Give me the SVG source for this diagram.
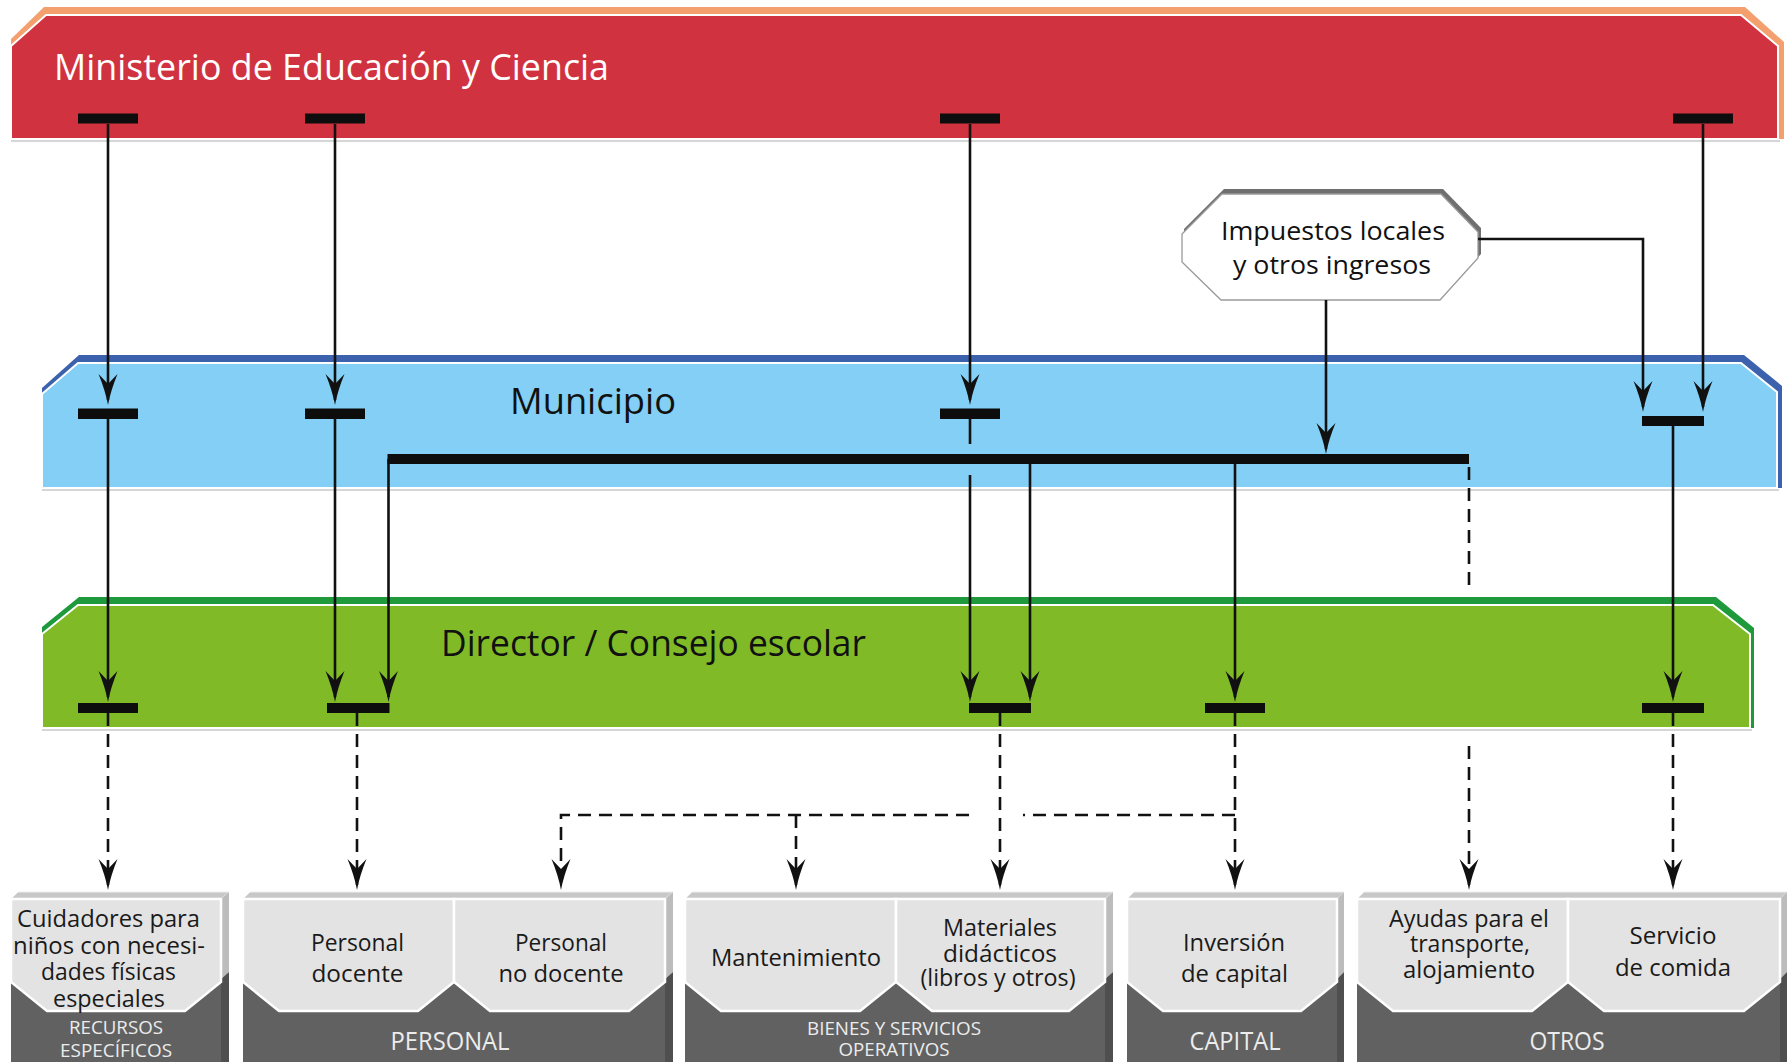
<svg xmlns="http://www.w3.org/2000/svg" width="1787" height="1062" viewBox="0 0 1787 1062">
<defs>
<style>
.t{font-family:"Open Sans","Noto Sans","DejaVu Sans",sans-serif}
.ln{stroke:#111;stroke-width:2.6;fill:none}
.dl{stroke:#111;stroke-width:2.6;fill:none;stroke-dasharray:13 8}
.ar{marker-end:url(#ah)}
.bar{fill:#0d0d0d}
.sep{stroke:#d6d6d6;stroke-width:2}
.cell{fill:#e3e3e3;stroke:#fff;stroke-width:2.5}
.dark{fill:#616161}
.bevel{fill:#c8c8c8;stroke:#eee;stroke-width:1}
.sideL{fill:#bcbcbc}
.sideD{fill:#4f4f4f}
.ct{font-size:24.5px;fill:#1a1a1a;text-anchor:middle}
.lb{fill:#ececec;text-anchor:middle}
</style>
<marker id="ah" viewBox="-34 -11 36 22" refX="-5" refY="0" markerWidth="36" markerHeight="22" markerUnits="userSpaceOnUse" orient="auto">
<path d="M0,0 Q-14,-2.5 -31,-9.5 L-21,0 L-31,9.5 Q-14,2.5 0,0 Z" fill="#111"/>
</marker>
</defs>
<rect width="1787" height="1062" fill="#fff"/>

<g id="ministerio">
<polygon points="11,39 44,7 1745,7 1784,42 1784,139 11,139" fill="#f3a06e"/>
<polygon points="11,46 46,15 1741,15 1778,46 1778,139 11,139" fill="#d1323f" stroke="#fff" stroke-width="2"/>
<line class="sep" x1="11" y1="141" x2="1780" y2="141"/>
<text class="t" x="54" y="80" font-size="37" fill="#fff" textLength="555" lengthAdjust="spacingAndGlyphs">Ministerio de Educación y Ciencia</text>
</g>

<g id="municipio">
<polygon points="42,388 79,355 1744,355 1782,386 1782,488 42,488" fill="#3c62ad"/>
<polygon points="42,394 78,363 1741,363 1777,392 1777,488 42,488" fill="#83cff5" stroke="#fff" stroke-width="2"/>
<line class="sep" x1="42" y1="490" x2="1779" y2="490"/>
<text class="t" x="510" y="414" font-size="36" fill="#111" textLength="166" lengthAdjust="spacingAndGlyphs">Municipio</text>
</g>

<g id="director">
<polygon points="42,627 79,597 1716,597 1754,628 1754,728 42,728" fill="#1e9a3c"/>
<polygon points="42,634 78,605 1713,605 1750,634 1750,728 42,728" fill="#80ba27" stroke="#fff" stroke-width="2"/>
<line class="sep" x1="42" y1="730" x2="1752" y2="730"/>
<text class="t" x="441" y="656" font-size="36" fill="#111" textLength="425" lengthAdjust="spacingAndGlyphs">Director / Consejo escolar</text>
</g>

<g id="impuestos">
<polygon points="1184,229 1224,189 1443,189 1481,228 1481,254 1443,296 1222,296 1184,257" fill="#6f6f6f"/>
<polygon points="1182,234 1222,194 1441,194 1478,232 1478,258 1440,300 1221,300 1182,262" fill="#fff" stroke="#9a9a9a" stroke-width="1.3"/>
<text class="t" x="1333" y="240" font-size="26" fill="#111" text-anchor="middle" textLength="224" lengthAdjust="spacingAndGlyphs">Impuestos locales</text>
<text class="t" x="1332" y="274" font-size="26" fill="#111" text-anchor="middle" textLength="198" lengthAdjust="spacingAndGlyphs">y otros ingresos</text>
</g>

<g id="connectors">
<path class="ln ar" d="M108,124 V400"/>
<path class="ln ar" d="M335,124 V400"/>
<path class="ln ar" d="M970,124 V400"/>
<path class="ln ar" d="M1703,124 V407"/>
<path class="ln ar" d="M108,419 V697"/>
<path class="ln ar" d="M335,419 V697"/>
<path class="ln" d="M970,419 V444"/>
<path class="ln ar" d="M970,475 V697"/>
<path class="ln ar" d="M388.5,459 V697"/>
<path class="ln ar" d="M1030,464 V697"/>
<path class="ln ar" d="M1235,464 V697"/>
<path class="ln ar" d="M1478,239 H1643 V407"/>
<path class="ln ar" d="M1326,300 V449"/>
<path class="ln ar" d="M1673,426 V697"/>
<path class="dl" d="M1469,467 V587"/>
<path class="dl ar" d="M1469,746 V885"/>
<path class="dl ar" d="M108,713 V885"/>
<path class="dl ar" d="M357,713 V885"/>
<path class="dl ar" d="M1000,713 V885"/>
<path class="dl ar" d="M1235,713 V885"/>
<path class="dl ar" d="M1673,713 V885"/>
<path class="dl" d="M1235,815 H1023"/>
<path class="dl ar" d="M969,815 H561 V885"/>
<path class="dl ar" d="M796,815 V885"/>
<g id="junctions">
<rect class="bar" x="78" y="113.5" width="60" height="10"/>
<rect class="bar" x="305" y="113.5" width="60" height="10"/>
<rect class="bar" x="940" y="113.5" width="60" height="10"/>
<rect class="bar" x="1673" y="113.5" width="60" height="10"/>
<rect class="bar" x="78" y="408.5" width="60" height="10.5"/>
<rect class="bar" x="305" y="408.5" width="60" height="10.5"/>
<rect class="bar" x="940" y="408.5" width="60" height="10.5"/>
<rect class="bar" x="1642" y="416" width="62" height="10"/>
<rect class="bar" x="387.5" y="454" width="1081.5" height="10"/>
<rect class="bar" x="78" y="703" width="60" height="10"/>
<rect class="bar" x="327" y="703" width="62.5" height="10"/>
<rect class="bar" x="969" y="703" width="62" height="10"/>
<rect class="bar" x="1205" y="703" width="60" height="10"/>
<rect class="bar" x="1642" y="703" width="62" height="10"/>
</g>
</g>

<g id="recursos-especificos">
<rect class="dark" x="11" y="899" width="211" height="163"/>
<polygon class="bevel" points="11,899 18,892 229,892 221,899"/>
<polygon class="sideL" points="221,899 229,892 229,972 221,979"/>
<polygon class="sideD" points="221,979 229,972 229,1062 221,1062"/>
<g id="cuidadores">
<polygon class="cell" points="11,899 221,899 221,982 185,1011 47,1011 11,982"/>
<text class="t ct" x="108.5" y="927" textLength="183" lengthAdjust="spacingAndGlyphs">Cuidadores para</text>
<text class="t ct" x="109" y="954" textLength="192" lengthAdjust="spacingAndGlyphs">niños con necesi-</text>
<text class="t ct" x="108.5" y="980" textLength="135" lengthAdjust="spacingAndGlyphs">dades físicas</text>
<text class="t ct" x="109" y="1007" textLength="112" lengthAdjust="spacingAndGlyphs">especiales</text>
</g>
<text class="t lb" x="116" y="1034" font-size="19" textLength="94" lengthAdjust="spacingAndGlyphs">RECURSOS</text>
<text class="t lb" x="116" y="1056.5" font-size="19" textLength="112" lengthAdjust="spacingAndGlyphs">ESPECÍFICOS</text>
</g>

<g id="personal">
<rect class="dark" x="243" y="899" width="422" height="163"/>
<polygon class="bevel" points="243,899 250,892 673,892 665,899"/>
<polygon class="sideL" points="665,899 673,892 673,972 665,979"/>
<polygon class="sideD" points="665,979 673,972 673,1062 665,1062"/>
<g id="personal-docente">
<polygon class="cell" points="243,899 454,899 454,982 418,1011 279,1011 243,982"/>
<text class="t ct" x="357.5" y="951" textLength="93" lengthAdjust="spacingAndGlyphs">Personal</text>
<text class="t ct" x="357.5" y="982" textLength="92" lengthAdjust="spacingAndGlyphs">docente</text>
</g>
<g id="personal-no-docente">
<polygon class="cell" points="454,899 665,899 665,982 629,1011 490,1011 454,982"/>
<text class="t ct" x="561" y="951" textLength="92" lengthAdjust="spacingAndGlyphs">Personal</text>
<text class="t ct" x="561" y="982" textLength="125" lengthAdjust="spacingAndGlyphs">no docente</text>
</g>
<text class="t lb" x="450" y="1050" font-size="26" textLength="119" lengthAdjust="spacingAndGlyphs">PERSONAL</text>
</g>

<g id="bienes-servicios">
<rect class="dark" x="685" y="899" width="420" height="163"/>
<polygon class="bevel" points="685,899 692,892 1113,892 1105,899"/>
<polygon class="sideL" points="1105,899 1113,892 1113,972 1105,979"/>
<polygon class="sideD" points="1105,979 1113,972 1113,1062 1105,1062"/>
<g id="mantenimiento">
<polygon class="cell" points="685,899 896,899 896,982 860,1011 721,1011 685,982"/>
<text class="t ct" x="796" y="966" textLength="170" lengthAdjust="spacingAndGlyphs">Mantenimiento</text>
</g>
<g id="materiales">
<polygon class="cell" points="896,899 1105,899 1105,982 1069,1011 932,1011 896,982"/>
<text class="t ct" x="1000" y="936" textLength="114" lengthAdjust="spacingAndGlyphs">Materiales</text>
<text class="t ct" x="1000" y="962" textLength="114" lengthAdjust="spacingAndGlyphs">didácticos</text>
<text class="t ct" x="998" y="986" textLength="155" lengthAdjust="spacingAndGlyphs">(libros y otros)</text>
</g>
<text class="t lb" x="894" y="1035" font-size="19" textLength="174" lengthAdjust="spacingAndGlyphs">BIENES Y SERVICIOS</text>
<text class="t lb" x="894" y="1056" font-size="19" textLength="111" lengthAdjust="spacingAndGlyphs">OPERATIVOS</text>
</g>

<g id="capital">
<rect class="dark" x="1127" y="899" width="210" height="163"/>
<polygon class="bevel" points="1127,899 1134,892 1344,892 1337,899"/>
<polygon class="sideL" points="1337,899 1344,892 1344,972 1337,979"/>
<polygon class="sideD" points="1337,979 1344,972 1344,1062 1337,1062"/>
<g id="inversion">
<polygon class="cell" points="1127,899 1337,899 1337,982 1301,1011 1163,1011 1127,982"/>
<text class="t ct" x="1234" y="951" textLength="102" lengthAdjust="spacingAndGlyphs">Inversión</text>
<text class="t ct" x="1234.5" y="982" textLength="107" lengthAdjust="spacingAndGlyphs">de capital</text>
</g>
<text class="t lb" x="1235" y="1050" font-size="26" textLength="91" lengthAdjust="spacingAndGlyphs">CAPITAL</text>
</g>

<g id="otros">
<rect class="dark" x="1357" y="899" width="423" height="163"/>
<polygon class="bevel" points="1357,899 1364,892 1787,892 1780,899"/>
<polygon class="sideL" points="1780,899 1787,892 1787,972 1780,979"/>
<polygon class="sideD" points="1780,979 1787,972 1787,1062 1780,1062"/>
<g id="ayudas">
<polygon class="cell" points="1357,899 1568,899 1568,982 1532,1011 1393,1011 1357,982"/>
<text class="t ct" x="1469" y="927" textLength="160" lengthAdjust="spacingAndGlyphs">Ayudas para el</text>
<text class="t ct" x="1470" y="952" textLength="120" lengthAdjust="spacingAndGlyphs">transporte,</text>
<text class="t ct" x="1469" y="978" textLength="132" lengthAdjust="spacingAndGlyphs">alojamiento</text>
</g>
<g id="servicio-comida">
<polygon class="cell" points="1568,899 1780,899 1780,982 1744,1011 1604,1011 1568,982"/>
<text class="t ct" x="1673" y="944" textLength="87" lengthAdjust="spacingAndGlyphs">Servicio</text>
<text class="t ct" x="1673" y="976" textLength="116" lengthAdjust="spacingAndGlyphs">de comida</text>
</g>
<text class="t lb" x="1567" y="1050" font-size="26" textLength="75" lengthAdjust="spacingAndGlyphs">OTROS</text>
</g>
</svg>
